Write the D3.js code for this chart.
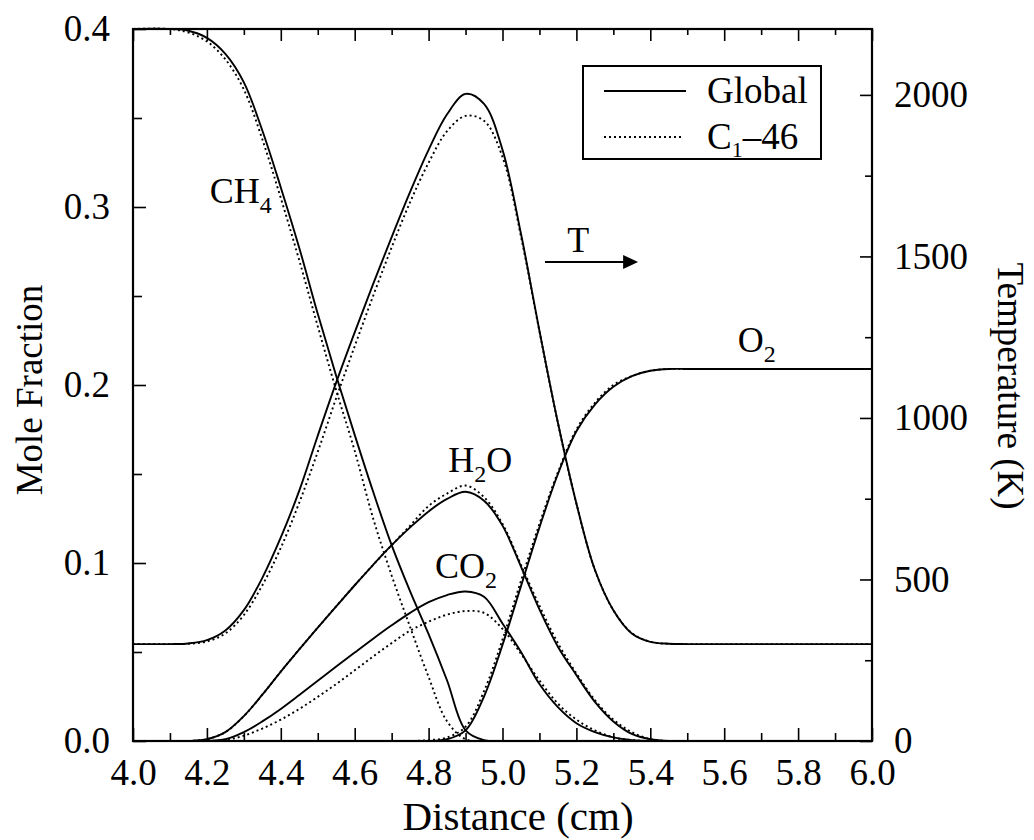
<!DOCTYPE html>
<html><head><meta charset="utf-8">
<script src="https://cdn.jsdelivr.net/npm/d3@7"></script>
<style>
body{margin:0;background:#fff}
svg text{font-family:"Liberation Serif","Tinos","Times New Roman",Times,serif;fill:#000}
</style>
</head><body>
<svg id="chart" width="1034" height="840"></svg>
<script>
// ---------- data ----------
const distance = [4.0,4.1,4.15,4.2,4.25,4.3,4.35,4.4,4.45,4.5,4.55,4.6,4.65,4.7,4.75,4.8,4.85,4.9,4.95,5.0,5.05,5.1,5.15,5.2,5.25,5.3,5.35,5.4,5.45,5.5,5.6,5.8,6.0];

const ch4Global = [0.400,0.400,0.399,0.395,0.386,0.370,0.343,0.311,0.277,0.240,0.205,0.172,0.140,0.110,0.084,0.060,0.034,0.006,0.0005,0,0,0,0,0,0,0,0,0,0,0,0,0,0];
const ch4C146   = [0.400,0.400,0.398,0.393,0.383,0.366,0.338,0.305,0.270,0.233,0.197,0.163,0.125,0.093,0.064,0.036,0.011,0.001,0,0,0,0,0,0,0,0,0,0,0,0,0,0,0];

const tGlobal = [300,300,302,312,342,405,505,630,775,945,1110,1265,1415,1560,1700,1830,1940,2003,1972,1830,1570,1270,985,735,530,405,333,307,301,300,300,300,300];
const tC146   = [300,300,301,308,333,390,482,598,738,895,1062,1222,1378,1528,1668,1790,1888,1935,1920,1808,1562,1268,984,735,530,405,334,307,301,300,300,300,300];

const o2Global = [0,0,0,0,0,0,0,0,0,0,0,0,0,0,0,0,0.001,0.006,0.025,0.054,0.087,0.120,0.150,0.174,0.189,0.199,0.205,0.208,0.209,0.209,0.209,0.209,0.209];
const o2C146   = [0,0,0,0,0,0,0,0,0,0,0,0,0,0,0,0.0005,0.002,0.008,0.028,0.057,0.090,0.122,0.151,0.175,0.190,0.200,0.205,0.208,0.209,0.209,0.209,0.209,0.209];

const h2oGlobal = [0,0,0,0.001,0.005,0.014,0.026,0.039,0.0515,0.0637,0.0757,0.0875,0.099,0.110,0.120,0.129,0.136,0.140,0.135,0.121,0.098,0.074,0.053,0.037,0.022,0.011,0.004,0.001,0,0,0,0,0];
const h2oC146   = [0,0,0,0.001,0.005,0.014,0.026,0.039,0.0515,0.0637,0.0757,0.0875,0.099,0.110,0.121,0.132,0.139,0.1435,0.137,0.122,0.099,0.076,0.055,0.038,0.023,0.012,0.005,0.001,0,0,0,0,0];

const co2Global = [0,0,0,0,0.001,0.005,0.011,0.018,0.0258,0.0338,0.0418,0.0497,0.0575,0.065,0.072,0.078,0.082,0.084,0.081,0.066,0.050,0.032,0.019,0.010,0.005,0.002,0.0005,0,0,0,0,0,0];
const co2C146   = [0,0,0,0,0.0005,0.003,0.007,0.012,0.018,0.0248,0.032,0.0397,0.0475,0.055,0.062,0.067,0.071,0.073,0.072,0.063,0.049,0.034,0.021,0.012,0.006,0.002,0.0005,0,0,0,0,0,0];

const xTickLabels = [4.0,4.2,4.4,4.6,4.8,5.0,5.2,5.4,5.6,5.8,6.0];
const xMinorTicks = [4.1,4.3,4.5,4.7,4.9,5.1,5.3,5.5,5.7,5.9];
const yLeftTicks = [0.0,0.1,0.2,0.3,0.4];
const yLeftMinor = [0.05,0.15,0.25,0.35];
const yRightTicks = [0,500,1000,1500,2000];
const yRightMinor = [250,750,1250,1750];

const legendLabels = ["Global","C1\u201346"];

// ---------- layout ----------
const svg = d3.select("#chart");
const P = {left:133, right:872, top:29, bottom:741};
const FS = 37;
const SERIF = '"Liberation Serif","Tinos","Times New Roman",Times,serif';

const x  = d3.scaleLinear().domain([4,6]).range([P.left,P.right]);
const yL = d3.scaleLinear().domain([0,0.4]).range([P.bottom,P.top]);
const yR = d3.scaleLinear().domain([0,2204]).range([P.bottom,P.top]);

const curve = d3.curveCatmullRom.alpha(0.5);
const lineL = d3.line().x(d=>x(d[0])).y(d=>yL(d[1])).curve(curve);
const lineR = d3.line().x(d=>x(d[0])).y(d=>yR(d[1])).curve(curve);
const pairs = v => distance.map((d,i)=>[d,v[i]]);

svg.append("defs").append("clipPath").attr("id","plotclip")
  .append("rect").attr("x",P.left).attr("y",P.top-2).attr("width",P.right-P.left).attr("height",P.bottom-P.top+2);
const g = svg.append("g").attr("clip-path","url(#plotclip)");

// curves
const solid = {fill:"none",stroke:"#000","stroke-width":1.9};
const dotted = {fill:"none",stroke:"#000","stroke-width":1.9,"stroke-dasharray":"2,3"};
function draw(path, attrs){const p=g.append("path").attr("d",path);for(const k in attrs)p.attr(k,attrs[k]);}

[ch4Global,o2Global,h2oGlobal,co2Global].forEach(s=>draw(lineL(pairs(s)),solid));
[ch4C146,o2C146,h2oC146,co2C146].forEach(s=>draw(lineL(pairs(s)),dotted));
draw(lineR(pairs(tGlobal)),solid);
draw(lineR(pairs(tC146)),dotted);

// axes
function styleAxis(sel){
  sel.attr("font-family",SERIF);
  sel.select(".domain").remove();
  sel.selectAll(".tick line").attr("stroke","#000").attr("stroke-width",1.6);
  sel.selectAll(".tick text").style("font-size",FS+"px").style("font-family",SERIF).attr("fill","#000");
}
const fmt1 = d3.format(".1f");
svg.append("g").attr("transform",`translate(0,${P.bottom})`)
  .call(d3.axisBottom(x).tickValues(xTickLabels).tickSize(-13).tickPadding(18).tickFormat(fmt1)).call(styleAxis);
svg.append("g").attr("transform",`translate(0,${P.bottom})`)
  .call(d3.axisBottom(x).tickValues(xMinorTicks).tickSize(-8).tickFormat("")).call(styleAxis);
svg.append("g").attr("transform",`translate(0,${P.top})`)
  .call(d3.axisTop(x).tickValues(xTickLabels).tickSize(-12).tickFormat("")).call(styleAxis);
svg.append("g").attr("transform",`translate(0,${P.top})`)
  .call(d3.axisTop(x).tickValues(xMinorTicks).tickSize(-6).tickFormat("")).call(styleAxis);
svg.append("g").attr("transform",`translate(${P.left},0)`)
  .call(d3.axisLeft(yL).tickValues(yLeftTicks).tickSize(-13).tickPadding(23).tickFormat(fmt1)).call(styleAxis);
svg.append("g").attr("transform",`translate(${P.left},0)`)
  .call(d3.axisLeft(yL).tickValues(yLeftMinor).tickSize(-9).tickFormat("")).call(styleAxis);
svg.append("g").attr("transform",`translate(${P.right},0)`)
  .call(d3.axisRight(yR).tickValues(yRightTicks).tickSize(-12).tickPadding(22).tickFormat(d3.format("d"))).call(styleAxis);
svg.append("g").attr("transform",`translate(${P.right},0)`)
  .call(d3.axisRight(yR).tickValues(yRightMinor).tickSize(-7).tickFormat("")).call(styleAxis);

// frame
svg.append("rect").attr("x",P.left).attr("y",P.top).attr("width",P.right-P.left).attr("height",P.bottom-P.top)
  .attr("fill","none").attr("stroke","#000").attr("stroke-width",2.2);

function txt(parent){ return parent.append("text").style("font-family",SERIF); }

// axis titles
txt(svg).attr("x",518).attr("y",830).attr("text-anchor","middle").style("font-size","41px").text("Distance (cm)");
txt(svg).attr("transform","translate(42,390) rotate(-90)").attr("text-anchor","middle").style("font-size",FS+"px").text("Mole Fraction");
txt(svg).attr("transform","translate(998,386) rotate(90)").attr("text-anchor","middle").style("font-size",FS+"px").text("Temperature (K)");

// species labels
function chem(xd, yv, main, sub, tail){
  const t = txt(svg).attr("x",x(xd)).attr("y",yL(yv)).style("font-size","36px");
  t.append("tspan").text(main);
  t.append("tspan").attr("dy",10).style("font-size","24px").text(sub);
  if(tail){ t.append("tspan").attr("dy",-10).text(tail); }
}
chem(4.208,0.3022,"CH","4");
chem(4.853,0.1511,"H","2","O");
chem(4.817,0.0916,"CO","2");
chem(5.637,0.2185,"O","2");

// T arrow
txt(svg).attr("x",x(5.175)).attr("y",yR(1514)).style("font-size","36px").text("T");
const ay = yR(1483);
svg.append("line").attr("x1",x(5.115)).attr("x2",x(5.33)).attr("y1",ay).attr("y2",ay).attr("stroke","#000").attr("stroke-width",2);
const tip = x(5.367);
svg.append("path").attr("d",`M${tip},${ay}L${tip-15},${ay-7}L${tip-15},${ay+7}Z`).attr("fill","#000");

// legend
const lg = svg.append("g");
lg.append("rect").attr("x",583).attr("y",66).attr("width",238).attr("height",93).attr("fill","#fff").attr("stroke","#000").attr("stroke-width",2);
lg.append("line").attr("x1",604).attr("x2",686).attr("y1",91).attr("y2",91).attr("stroke","#000").attr("stroke-width",1.9);
lg.append("line").attr("x1",604).attr("x2",684).attr("y1",137).attr("y2",137).attr("stroke","#000").attr("stroke-width",1.9).attr("stroke-dasharray","2,3");
txt(lg).attr("x",707).attr("y",103).style("font-size",FS+"px").text(legendLabels[0]);
const l2 = txt(lg).attr("x",707).attr("y",149).style("font-size",FS+"px");
l2.append("tspan").text("C");
l2.append("tspan").attr("dy",8).style("font-size","22px").text("1");
l2.append("tspan").attr("dy",-8).text("\u201346");
</script>
</body></html>
